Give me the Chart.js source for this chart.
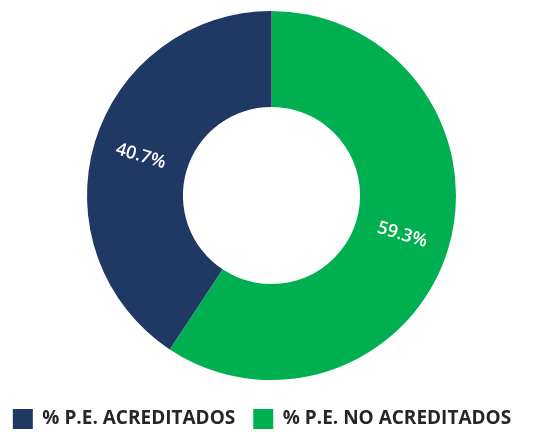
<!DOCTYPE html>
<html>
<head>
<meta charset="utf-8">
<script src="https://cdn.jsdelivr.net/npm/chart.js@4"></script>
<style>
  html, body { margin: 0; padding: 0; background: #fff; }
  #wrap { width: 543px; height: 432px; }
</style>
</head>
<body>
<div id="wrap"><canvas id="chart-acred"></canvas></div>
<script>
var categorias = ["% P.E. NO ACREDITADOS", "% P.E. ACREDITADOS"];
var porcentajes = [59.3, 40.7];
var colores = ["#00B050", "#1F3864"];
var etiquetas = ["59.3%", "40.7%"];
// legend shows navy first
var ordenLeyenda = [1, 0];

// radial labels, like the original
var etiquetasRadiales = {
  id: "etiquetasRadiales",
  afterDatasetsDraw: function (chart) {
    var ctx = chart.ctx;
    var meta = chart.getDatasetMeta(0);
    meta.data.forEach(function (arc, i) {
      var p = arc.getProps(["x", "y", "startAngle", "endAngle", "innerRadius", "outerRadius"], true);
      var mid = (p.startAngle + p.endAngle) / 2;
      var r = (p.innerRadius + p.outerRadius) / 2;
      var x = p.x + Math.cos(mid) * r;
      var y = p.y + Math.sin(mid) * r;
      var rot = mid;
      while (rot > Math.PI / 2) rot -= Math.PI;
      while (rot < -Math.PI / 2) rot += Math.PI;
      ctx.save();
      ctx.translate(x, y);
      ctx.rotate(rot);
      ctx.fillStyle = "#ffffff";
      ctx.font = "600 18px 'Open Sans'";
      ctx.textAlign = "center";
      ctx.textBaseline = "middle";
      ctx.fillText(etiquetas[i], 0, 0);
      ctx.restore();
    });
  },
};

// the legend sits a bit lower and further left in the original
var moverLeyenda = {
  id: "moverLeyenda",
  beforeDraw: function (chart) {
    var lg = chart.legend;
    var h = lg.bottom - lg.top;
    lg.top = 391;
    lg.bottom = 391 + h;
    lg.left -= 19;
  },
};

var ctx1 = document.getElementById("chart-acred").getContext("2d");
var chart1 = new Chart(ctx1, {
  type: "doughnut",
  data: {
    labels: categorias,
    datasets: [
      {
        data: porcentajes,
        backgroundColor: colores,
        borderWidth: 0,
      },
    ],
  },
  options: {
    responsive: true,
    maintainAspectRatio: false,
    animation: false,
    cutout: "48%",
    layout: {
      padding: { top: 11, bottom: 4, left: 0, right: 0 },
    },
    plugins: {
      tooltip: { enabled: false },
      legend: {
        position: "bottom",
        labels: {
          boxWidth: 20,
          boxHeight: 20,
          padding: 18,
          color: "#262626",
          font: { family: "Open Sans", size: 19, weight: "bold" },
          sort: function (a, b) {
            return ordenLeyenda.indexOf(a.index) - ordenLeyenda.indexOf(b.index);
          },
        },
      },
    },
  },
  plugins: [etiquetasRadiales, moverLeyenda],
});
</script>
</body>
</html>
